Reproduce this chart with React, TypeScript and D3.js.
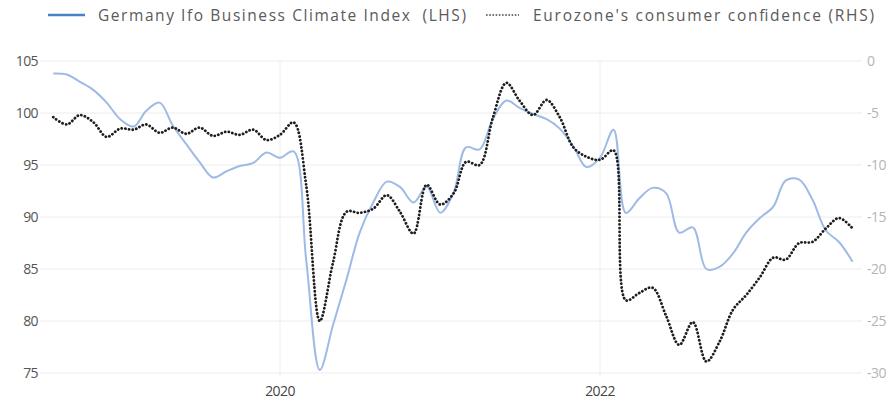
import React from "react";
import * as d3 from "d3";

// Monthly observations, Aug 2018 – Aug 2023
const startMonth = "2018-08";
const ifoIndex = [
  103.8, 103.7, 103.0, 102.2, 101.0, 99.4, 98.7, 100.2, 101.0, 98.8, 97.0, 95.3,
  93.8, 94.4, 94.9, 95.2, 96.2, 95.7, 96.3, 85.8, 75.3, 79.6, 84.0, 88.5,
  91.4, 93.4, 92.9, 91.4, 92.9, 90.4, 92.4, 96.7, 96.5, 99.4, 101.2, 100.5,
  99.9, 99.4, 98.5, 96.8, 94.8, 95.7, 98.4, 90.4, 91.8, 92.8, 92.3, 88.5,
  89.0, 85.0, 85.2, 86.5, 88.5, 89.9, 91.0, 93.5, 93.6, 91.7, 88.7, 87.6, 85.7,
];
const consumerConfidence = [
  -5.4, -6.1, -5.2, -5.9, -7.3, -6.5, -6.6, -6.1, -6.9, -6.4, -7.0, -6.4,
  -7.2, -6.8, -7.1, -6.6, -7.6, -7.1, -5.9, -12.0, -25.0, -19.4, -14.5, -14.6,
  -14.2, -12.9, -14.5, -16.6, -11.9, -13.8, -12.7, -9.7, -10.0, -5.5, -2.1, -3.8,
  -5.2, -3.75, -5.4, -8.3, -9.2, -9.5, -8.6, -23.0, -22.3, -21.8, -24.5, -27.3,
  -25.1, -28.9, -27.0, -23.9, -22.5, -20.8, -18.9, -19.1, -17.5, -17.4, -16.1, -15.1, -16.1,
];
const leftTicks = [75, 80, 85, 90, 95, 100, 105];
const rightTicks = [-30, -25, -20, -15, -10, -5, 0];
const yearTicks = ["2020", "2022"];
const legendLabels = [
  "Germany Ifo Business Climate Index  (LHS)",
  "Eurozone's consumer confidence (RHS)",
];

const W = 890;
const H = 402;
const plot = { left: 40, right: 862, top: 61, bottom: 373 };

const parseMonth = d3.timeParse("%Y-%m");
const months = d3.timeMonth.range(
  parseMonth(startMonth) as Date,
  d3.timeMonth.offset(parseMonth(startMonth) as Date, ifoIndex.length)
);

const x = d3
  .scaleTime()
  .domain([new Date(2020, 0, 1), new Date(2022, 0, 1)])
  .range([280, 600]);
const yL = d3.scaleLinear().domain([75, 105]).range([plot.bottom, plot.top]);
const yR = d3.scaleLinear().domain([-30, 0]).range([plot.bottom, plot.top]);

const ifoLine = d3
  .line<number>()
  .x((_, i) => x(months[i]))
  .y((v) => yL(v))
  .curve(d3.curveCatmullRom.alpha(0.5));
const ccLine = d3
  .line<number>()
  .x((_, i) => x(months[i]))
  .y((v) => yR(v))
  .curve(d3.curveCatmullRom.alpha(0.5));

const FONT = "'Open Sans', 'Noto Sans', sans-serif";

export default function App() {
  return (
    <svg
      width={W}
      height={H}
      viewBox={`0 0 ${W} ${H}`}
      style={{ position: "absolute", left: 0, top: 0, background: "#fff" }}
      fontFamily={FONT}
    >
      {/* legend */}
      <g>
        <line x1={48} x2={85} y1={15} y2={15} stroke="#4a82c4" strokeWidth={2.4} />
        <text
          x={98}
          y={21}
          fontSize={15.5}
          fill="#5a5a5a"
          textLength={368}
          lengthAdjust="spacing"
          style={{ whiteSpace: "pre" }}
        >
          {legendLabels[0]}
        </text>
        <line
          x1={486}
          x2={519}
          y1={15}
          y2={15}
          stroke="#444"
          strokeWidth={1.6}
          strokeDasharray="1.6 1.6"
        />
        <text
          x={533}
          y={21}
          fontSize={15.5}
          fill="#5a5a5a"
          textLength={341}
          lengthAdjust="spacing"
        >
          {legendLabels[1]}
        </text>
      </g>

      {/* horizontal grid */}
      {leftTicks.map((t) => (
        <line
          key={t}
          x1={plot.left}
          x2={plot.right}
          y1={yL(t)}
          y2={yL(t)}
          stroke="#ececec"
          strokeWidth={1}
        />
      ))}
      {/* vertical grid at year starts */}
      {yearTicks.map((yr) => {
        const xp = x(new Date(+yr, 0, 1));
        return (
          <line
            key={yr}
            x1={xp}
            x2={xp}
            y1={plot.top}
            y2={plot.bottom + 4}
            stroke="#ececec"
            strokeWidth={1}
          />
        );
      })}

      {/* left axis labels */}
      {leftTicks.map((t) => (
        <text
          key={t}
          x={38}
          y={yL(t) + 5}
          textAnchor="end"
          fontSize={14}
          fill="#555"
          letterSpacing={-0.6}
        >
          {t}
        </text>
      ))}
      {/* right axis labels */}
      {rightTicks.map((t) => (
        <text
          key={t}
          x={867}
          y={yR(t) + 5}
          textAnchor="start"
          fontSize={14}
          fill="#b5b5b5"
          letterSpacing={-0.5}
        >
          {t}
        </text>
      ))}
      {/* year labels */}
      {yearTicks.map((yr) => (
        <text
          key={yr}
          x={x(new Date(+yr, 0, 1))}
          y={396}
          textAnchor="middle"
          fontSize={14}
          fill="#444"
          letterSpacing={-0.6}
        >
          {yr}
        </text>
      ))}

      {/* series */}
      <path
        d={ifoLine(ifoIndex) ?? ""}
        fill="none"
        stroke="#9dbbe6"
        strokeWidth={2}
        strokeLinejoin="round"
      />
      <path
        d={ccLine(consumerConfidence) ?? ""}
        fill="none"
        stroke="#1e1e1e"
        strokeWidth={2.8}
        strokeLinecap="round"
        strokeDasharray="0.1 3.6"
      />
    </svg>
  );
}
